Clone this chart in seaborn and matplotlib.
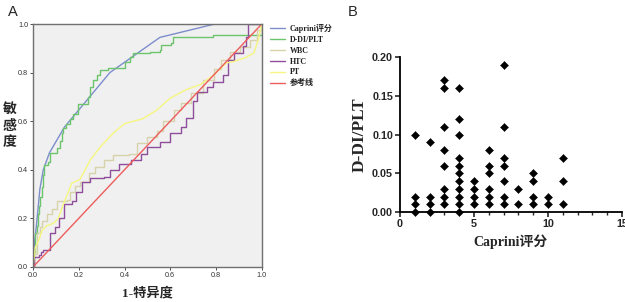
import numpy as np
import pandas as pd
import matplotlib
matplotlib.use("Agg")
import matplotlib.pyplot as plt
import seaborn as sns

# ── ROC curve vertices ────────────────────────────────────────────────────────
caprini_fpr = [0.0, 0.003, 0.015, 0.030, 0.045, 0.072, 0.137, 0.336, 0.555, 0.795, 1.0]
caprini_tpr = [0.0, 0.070, 0.170, 0.320, 0.400, 0.470, 0.575, 0.800, 0.945, 1.000, 1.0]

ddi_fpr = [0.000, 0.003, 0.009, 0.016, 0.023, 0.028, 0.031, 0.038, 0.045, 0.048,
           0.067, 0.075, 0.105, 0.118, 0.125, 0.132, 0.145, 0.160, 0.175, 0.198,
           0.241, 0.249, 0.263, 0.278, 0.293, 0.329, 0.400, 0.425, 0.438, 0.510,
           0.555, 0.560, 0.605, 0.613, 0.787, 1.000]
ddi_tpr = [0.00, 0.06, 0.14, 0.17, 0.22, 0.25, 0.29, 0.33, 0.38, 0.42,
           0.43, 0.47, 0.49, 0.52, 0.55, 0.57, 0.59, 0.61, 0.63, 0.67,
           0.70, 0.74, 0.77, 0.79, 0.81, 0.82, 0.845, 0.865, 0.88, 0.885,
           0.893, 0.914, 0.92, 0.945, 0.955, 1.00]

wbc_fpr = [0.000, 0.004, 0.017, 0.030, 0.040, 0.060, 0.083, 0.105, 0.150, 0.163,
           0.185, 0.205, 0.245, 0.270, 0.310, 0.350, 0.420, 0.455, 0.500, 0.540,
           0.570, 0.615, 0.645, 0.690, 0.745, 0.790, 0.820, 0.860, 0.905, 0.950,
           0.980, 1.000]
wbc_tpr = [0.000, 0.055, 0.140, 0.165, 0.190, 0.220, 0.240, 0.270, 0.275, 0.310,
           0.335, 0.350, 0.385, 0.410, 0.440, 0.460, 0.465, 0.510, 0.535, 0.560,
           0.600, 0.645, 0.675, 0.715, 0.770, 0.815, 0.850, 0.885, 0.905, 0.935,
           0.975, 1.000]

htc_fpr = [0.000, 0.003, 0.025, 0.035, 0.045, 0.075, 0.097, 0.112, 0.135, 0.170,
           0.190, 0.215, 0.250, 0.310, 0.335, 0.375, 0.430, 0.470, 0.500, 0.555,
           0.600, 0.645, 0.670, 0.700, 0.715, 0.760, 0.786, 0.830, 0.853, 0.880,
           0.918, 0.930, 0.940, 1.000]
htc_tpr = [0.000, 0.040, 0.050, 0.060, 0.070, 0.140, 0.165, 0.200, 0.260, 0.270,
           0.310, 0.350, 0.365, 0.370, 0.400, 0.425, 0.440, 0.465, 0.495, 0.515,
           0.550, 0.575, 0.615, 0.685, 0.720, 0.740, 0.763, 0.790, 0.850, 0.880,
           0.910, 0.945, 1.000, 1.000]

pt_fpr = [0.000, 0.010, 0.025, 0.040, 0.060, 0.090, 0.110, 0.140, 0.170, 0.205,
          0.250, 0.295, 0.350, 0.400, 0.480, 0.540, 0.600, 0.670, 0.730, 0.790,
          0.845, 0.875, 0.925, 0.965, 0.985, 1.000]
pt_tpr = [0.000, 0.080, 0.110, 0.150, 0.170, 0.180, 0.200, 0.275, 0.345, 0.360,
          0.440, 0.495, 0.550, 0.590, 0.610, 0.645, 0.695, 0.730, 0.750, 0.790,
          0.840, 0.845, 0.860, 0.880, 0.935, 1.000]

ref_fpr = [0.0, 1.0]
ref_tpr = [0.0, 1.0]

# ── Scatter data: Caprini score vs D-DI/PLT ───────────────────────────────────
caprini_score = ([1] * 4 + [2] * 4 + [3] * 8 + [4] * 11 + [5] * 4 + [6] * 6
                 + [7] * 7 + [8] * 2 + [9] * 4 + [10] * 2 + [11] * 3)
ddi_plt = [0.10, 0.02, 0.01, 0.00,
           0.09, 0.02, 0.01, 0.00,
           0.17, 0.16, 0.11, 0.08, 0.06, 0.03, 0.02, 0.01,
           0.16, 0.12, 0.10, 0.07, 0.06, 0.05, 0.04, 0.03, 0.02, 0.01, 0.00,
           0.04, 0.03, 0.02, 0.01,
           0.08, 0.06, 0.05, 0.03, 0.02, 0.01,
           0.19, 0.11, 0.07, 0.06, 0.04, 0.02, 0.01,
           0.03, 0.01,
           0.05, 0.04, 0.02, 0.01,
           0.02, 0.01,
           0.07, 0.04, 0.01]

curves = [
    ("Caprini评分", caprini_fpr, caprini_tpr, "#7d8dcc", None),
    ("D-DI/PLT",   ddi_fpr, ddi_tpr, "#6cc46c", "steps-post"),
    ("WBC",        wbc_fpr, wbc_tpr, "#d8d2ab", "steps-post"),
    ("HTC",        htc_fpr, htc_tpr, "#8f4e9c", "steps-post"),
    ("PT",         pt_fpr, pt_tpr, "#f6f680", None),
    ("参考线",      ref_fpr, ref_tpr, "#ee5c5c", None),
]

sns.set_style("white")
CJK = ["Liberation Serif", "Noto Sans CJK SC"]
plt.rcParams["font.family"] = ["Liberation Sans", "Noto Sans CJK SC"]

fig = plt.figure(figsize=(6.25, 3.02), dpi=100)

# ── Panel A: ROC curves ───────────────────────────────────────────────────────
axA = fig.add_axes([0.0528, 0.116, 0.366, 0.8045])
axA.set_facecolor("#f0f0f0")
for label, fx, ty, col, ds in curves:
    d = pd.DataFrame({"fpr": fx, "tpr": ty})
    kw = {"drawstyle": ds} if ds else {}
    sns.lineplot(data=d, x="fpr", y="tpr", ax=axA, color=col, lw=1.0,
                 estimator=None, sort=False, label=label, **kw)

axA.set_xlim(0, 1)
axA.set_ylim(0, 1)
axA.set_xticks(np.arange(0, 1.01, 0.2))
axA.set_yticks(np.arange(0, 1.01, 0.2))
axA.xaxis.set_major_formatter(matplotlib.ticker.FormatStrFormatter("%.1f"))
axA.yaxis.set_major_formatter(matplotlib.ticker.FormatStrFormatter("%.1f"))
axA.tick_params(axis="both", labelsize=5.2, length=2, width=0.6, pad=1.5,
                direction="out", bottom=True, left=True, colors="#333333")
for s in axA.spines.values():
    s.set_color("#707070")
    s.set_linewidth(1.0)
axA.set_xlabel("1-特异度", fontsize=9.5, fontweight="bold", family=CJK, labelpad=6)
axA.set_ylabel("敏\n感\n度", fontsize=10, fontweight="bold", family=CJK,
               rotation=0, va="center", ha="center", linespacing=1.35)
axA.yaxis.set_label_coords(-0.103, 0.58)

leg = axA.legend(loc="upper left", bbox_to_anchor=(1.02, 1.015), frameon=False,
                 fontsize=5.8, handlelength=1.9, labelspacing=0.36,
                 handletextpad=0.6, borderaxespad=0)
for t in leg.get_texts():
    t.set_family(CJK)
    t.set_fontweight("bold")
    t.set_color("#222222")

# ── Panel B: scatter ─────────────────────────────────────────────────────────
axB = fig.add_axes([0.64, 0.298, 0.355, 0.513])
dB = pd.DataFrame({"score": caprini_score, "ratio": ddi_plt})
sns.scatterplot(data=dB, x="score", y="ratio", ax=axB, marker="D", s=17,
                color="black", edgecolor="black", linewidth=0.3, clip_on=False,
                zorder=3)
axB.set_xlim(0, 15)
axB.set_ylim(0, 0.20)
axB.set_xticks([0, 5, 10, 15])
axB.set_xticks(np.arange(0, 16, 1), minor=True)
axB.set_yticks([0, 0.05, 0.10, 0.15, 0.20])
axB.yaxis.set_major_formatter(matplotlib.ticker.FormatStrFormatter("%.2f"))
axB.tick_params(axis="both", which="major", labelsize=7.8, length=3.5, width=1.2,
                direction="out", bottom=True, left=True, pad=1.5)
axB.tick_params(axis="x", which="minor", length=2.5, width=1.0, bottom=True,
                direction="out")
for lab in axB.get_xticklabels() + axB.get_yticklabels():
    lab.set_fontweight("bold")
sns.despine(ax=axB)
for s in ("left", "bottom"):
    axB.spines[s].set_linewidth(1.3)
    axB.spines[s].set_color("black")
axB.set_xlabel("Caprini评分", fontsize=10, fontweight="bold", family=CJK, labelpad=4)
axB.set_ylabel("D-DI/PLT", fontsize=12.5, fontweight="bold", family=CJK, labelpad=3)

# Panel letters
fig.text(0.012, 0.985, "A", fontsize=10.5, va="top", ha="left")
fig.text(0.557, 0.985, "B", fontsize=10.5, va="top", ha="left")

fig.savefig("out.png", dpi=100)
